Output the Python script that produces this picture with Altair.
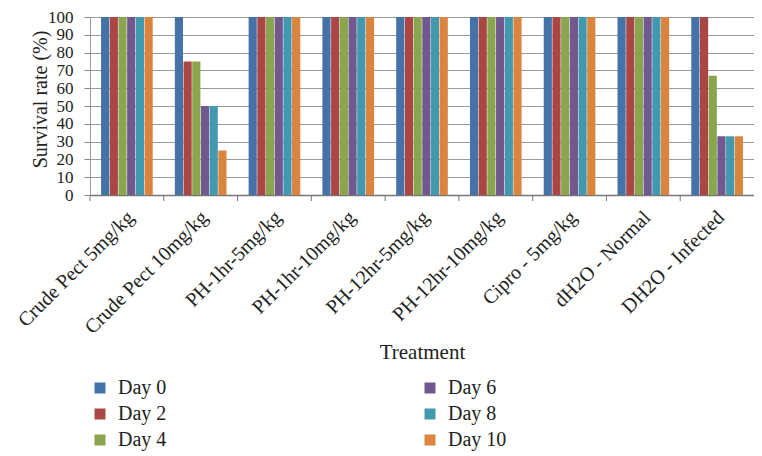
import altair as alt
import pandas as pd

treatments = ["Crude Pect 5mg/kg", "Crude Pect 10mg/kg", "PH-1hr-5mg/kg", "PH-1hr-10mg/kg",
              "PH-12hr-5mg/kg", "PH-12hr-10mg/kg", "Cipro - 5mg/kg", "dH2O - Normal", "DH2O - Infected"]
days = ["Day 0", "Day 2", "Day 4", "Day 6", "Day 8", "Day 10"]
day0 = [100, 100, 100, 100, 100, 100, 100, 100, 100]
day2 = [100, 75, 100, 100, 100, 100, 100, 100, 100]
day4 = [100, 75, 100, 100, 100, 100, 100, 100, 67]
day6 = [100, 50, 100, 100, 100, 100, 100, 100, 33]
day8 = [100, 50, 100, 100, 100, 100, 100, 100, 33]
day10 = [100, 25, 100, 100, 100, 100, 100, 100, 33]
colors = ["#4572A7", "#AA4643", "#89A54E", "#71588F", "#4198AF", "#DB843D"]

series = [day0, day2, day4, day6, day8, day10]
rows = []
for d, vals in zip(days, series):
    for t, v in zip(treatments, vals):
        rows.append({"Treatment": t, "Day": d, "Rate": v})
df = pd.DataFrame(rows)

FONT = "Liberation Serif"
W, H = 664, 178
STEP = W / len(treatments)
P_IN, P_OUT = 0.3, 0.15

xscale = alt.Scale(paddingInner=P_IN, paddingOuter=P_OUT)

bars = alt.Chart(df).mark_bar(stroke=None).encode(
    x=alt.X("Treatment:N", sort=treatments, scale=xscale,
            axis=alt.Axis(title="Treatment", labelAngle=-45, labelAlign="right",
                          labelBaseline="middle", labelFontSize=20, labelFont=FONT,
                          labelColor="#222", labelPadding=19, labelOffset=4, ticks=False,
                          labelOverlap=False, labelLimit=300,
                          domainColor="#777", domainWidth=1.5,
                          titleFont=FONT, titleFontSize=21, titleFontWeight="normal",
                          titleColor="#222", titleY=157, titleBaseline="middle")),
    xOffset=alt.XOffset("Day:N", sort=days,
                        scale=alt.Scale(paddingInner=0.06, paddingOuter=0)),
    y=alt.Y("Rate:Q", scale=alt.Scale(domain=[0, 100]),
            axis=alt.Axis(title="Survival rate (%)", values=list(range(0, 101, 10)),
                          labelOverlap=False,
                          labelFontSize=17, labelFont=FONT, labelColor="#222",
                          tickColor="#888", tickSize=6, labelPadding=11,
                          domainColor="#999", gridColor="#9a9a9a", gridWidth=1,
                          titleFont=FONT, titleFontSize=20, titleFontWeight="normal",
                          titleColor="#222", titleX=-50, titleY=82,
                          titleAlign="center", titleBaseline="middle")),
    color=alt.Color("Day:N", scale=alt.Scale(domain=days, range=colors),
                    legend=alt.Legend(title=None, orient="none", legendX=0, legendY=361,
                                      columns=2, columnPadding=253, rowPadding=6,
                                      symbolType="square", symbolSize=121,
                                      symbolStrokeWidth=0, labelFont=FONT,
                                      labelFontSize=20, labelColor="#222",
                                      labelOffset=8)),
)

ticks = alt.Chart(pd.DataFrame({"Treatment": treatments})).mark_rule(
    color="#777", xOffset=-STEP * P_OUT
).encode(
    x=alt.X("Treatment:N", sort=treatments, bandPosition=0),
    y=alt.value(H),
    y2=alt.value(H + 6),
)

chart = alt.layer(bars, ticks).properties(
    width=W, height=H,
    autosize=alt.AutoSizeParams(type="none"),
    padding={"left": 82, "top": 9, "right": 0, "bottom": 256},
).configure_view(stroke="#aaa").configure(background="white")

chart.save("out.html", embed_options={"renderer": "svg", "actions": False})
